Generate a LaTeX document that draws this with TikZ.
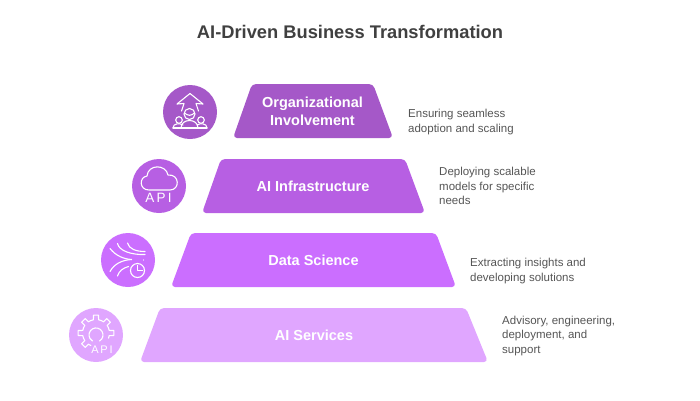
\documentclass[tikz,border=0pt]{standalone}
\usepackage{fontspec}
\setmainfont{Liberation Sans}

\definecolor{orgPurple}{HTML}{A558C8}
\definecolor{infraPurple}{HTML}{B75FE3}
\definecolor{dataPurple}{HTML}{CB6EFF}
\definecolor{servicePurple}{HTML}{E0A6FF}
\definecolor{noteGray}{HTML}{555555}
\definecolor{titleGray}{HTML}{404040}

\tikzset{
	tier/.style={rounded corners=4pt},
	tierlabel/.style={inner sep=0pt, align=center, text=white, font=\fontsize{14.5}{18}\selectfont\bfseries},
	badge/.style={circle, minimum size=54pt, inner sep=0pt},
	note/.style={anchor=west, align=left, inner sep=0pt, text=noteGray, font=\fontsize{11.5}{14.3}\selectfont},
	glyph/.style={draw=white, line width=1.1pt, line cap=round, line join=round},
	apitext/.style={inner sep=0pt, text=white}
}

\begin{document}
\begin{tikzpicture}[x=1pt, y=-1pt]
	\useasboundingbox (0,0) rectangle (700,400);
	
	\node (title) [inner sep=0pt, text=titleGray, font=\fontsize{18.3}{20}\selectfont\bfseries] at (350,32) {AI-Driven Business Transformation};
	
	% pyramid
	\fill [tier, orgPurple] (233,138) -- (252,84) -- (373,84) -- (393,138) -- cycle;
	\fill [tier, infraPurple] (202,213) -- (221,159) -- (405,159) -- (425,213) -- cycle;
	\fill [tier, dataPurple] (171,287) -- (191,233) -- (436,233) -- (456,287) -- cycle;
	\fill [tier, servicePurple] (140,362) -- (160,308) -- (466,308) -- (488,362) -- cycle;
	
	\node (orgTier) [tierlabel] at (312.5,111) {Organizational\\Involvement};
	\node (infraTier) [tierlabel] at (313,186) {AI Infrastructure};
	\node (dataTier) [tierlabel] at (313.5,260) {Data Science};
	\node (serviceTier) [tierlabel] at (314,335) {AI Services};
	
	\node (orgNote) [note] at (408,122) {Ensuring seamless\\adoption and scaling};
	\node (infraNote) [note] at (439,186) {Deploying scalable\\models for specific\\needs};
	\node (dataNote) [note] at (470,271) {Extracting insights and\\developing solutions};
	\node (serviceNote) [note] at (502,336) {Advisory, engineering,\\deployment, and\\support};
	
	\node (orgBadge) [badge, fill=orgPurple] at (190,112) {};
	\node (infraBadge) [badge, fill=infraPurple] at (159,186) {};
	\node (dataBadge) [badge, fill=dataPurple] at (128,260) {};
	\node (serviceBadge) [badge, fill=servicePurple] at (96,335) {};
	
	% people and arrow
	\begin{scope}[glyph]
		\draw (181.5,111) -- (184,103.5) -- (177,104) -- (190,93.5) -- (203,104) -- (196,103.5) -- (198.5,111);
		\draw (189.5,114) circle (5.5);
		\draw (184.5,113) .. controls (188,116) and (191,116) .. (194.5,113);
		\draw (181,128) .. controls (181,118) and (198,118) .. (198,128);
		\draw (179,120) circle (3.3);
		\draw (201,120) circle (3.3);
		\draw (173,128) .. controls (173,123) and (180,123) .. (183,125);
		\draw (207,128) .. controls (207,123) and (200,123) .. (197,125);
		\draw (173,128) -- (207,128);
	\end{scope}
	
	% cloud
	\draw [glyph] (149,190) .. controls (139,190) and (139,177) .. (147,176) .. controls (148,164) and (166,164) .. (168,175) .. controls (180,174) and (180,190) .. (170,190) -- cycle;
	\node (infraApi) [apitext, font=\fontsize{13.5}{14}\selectfont] at (158.5,198) {A\,P\,I};
	
	% flow lines and clock
	\begin{scope}[glyph]
		\draw (110,248.5) .. controls (116,256) and (124,259) .. (131.5,259.5);
		\draw (110,271.5) .. controls (114,264) and (122,260) .. (131.5,259.5);
		\draw (117.5,243.5) .. controls (119,251) and (132,255) .. (145,254.5);
		\draw (127.5,243) .. controls (129,249) and (136,251.5) .. (145,251.5);
		\draw (117.5,276) .. controls (119,271) and (123,268) .. (128.5,266.5);
		\draw (137.5,270.5) circle (7);
		\draw (137.5,265.5) -- (137.5,270.5) -- (142.5,270.5);
		\fill [white] (143.5,260) circle (0.7);
	\end{scope}
	
	% gear
	\begin{scope}[glyph, shift={(96,333)}]
		\foreach \a in {0,45,90,135,180,225} {
			\draw (\a-22.5:13.5pt) arc (\a-22.5:\a-11:13.5pt) -- (\a-8:18pt) arc (\a-8:\a+8:18pt) -- (\a+11:13.5pt) arc (\a+11:\a+22.5:13.5pt);
		}
		\draw (3.5,8) arc (-60:240:7pt);
	\end{scope}
	\node (serviceApi) [apitext, font=\fontsize{11}{12}\selectfont] at (102,349.5) {A\,P\,I};
\end{tikzpicture}
\end{document}
